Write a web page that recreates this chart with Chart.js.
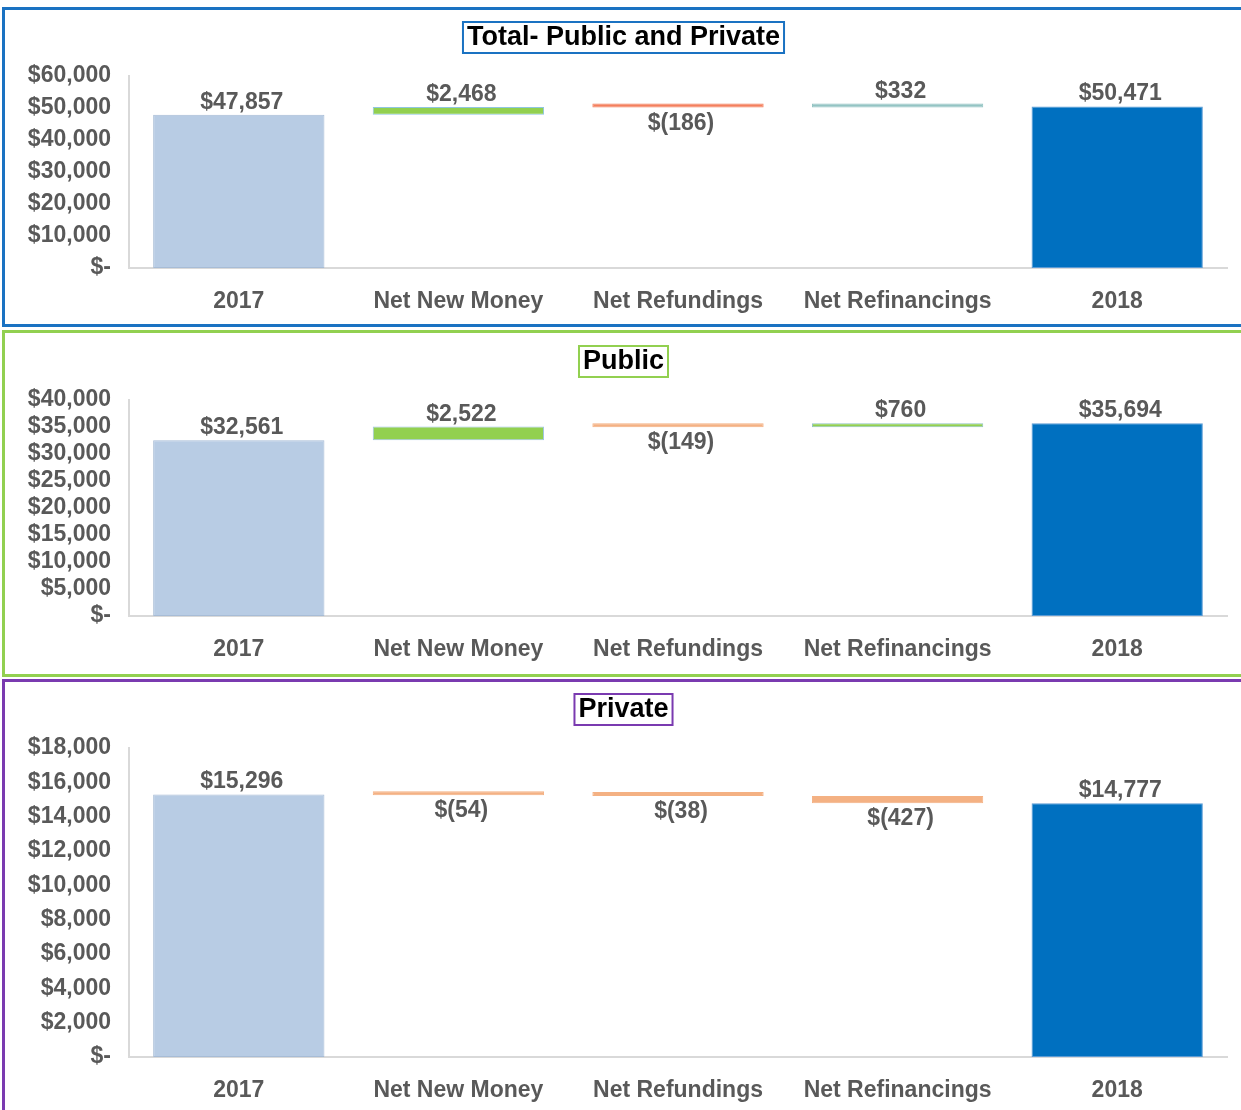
<!DOCTYPE html>
<html>
<head>
<meta charset="utf-8">
<title>Waterfall 2017-2018</title>
<script src="https://cdn.jsdelivr.net/npm/chart.js@4.4.1/dist/chart.umd.min.js"></script>
<style>
  body { margin: 0; width: 1241px; height: 1110px; overflow: hidden; background: #fff; position: relative; }
  .painel { position: absolute; left: 2px; width: 1270px; box-sizing: border-box; border: 3px solid; }
  #painel-total { top: 7px; height: 320px; border-color: #1a72c2; }
  #painel-publico { top: 330px; height: 347px; border-color: #92d050; }
  #painel-privado { top: 679px; height: 460px; border-color: #7a3ab0; }
  canvas { position: absolute; left: 0; }
</style>
</head>
<body>
<div class="painel" id="painel-total"></div>
<div class="painel" id="painel-publico"></div>
<div class="painel" id="painel-privado"></div>
<canvas id="graficoTotal" style="top:10px" width="1241" height="314"></canvas>
<canvas id="graficoPublico" style="top:333px" width="1241" height="341"></canvas>
<canvas id="graficoPrivado" style="top:682px" width="1241" height="428"></canvas>
<script>
// Dados dos gráficos (milhões de dólares)
const categorias = ['2017', 'Net New Money', 'Net Refundings', 'Net Refinancings', '2018'];
const valoresTotal = [47857, 2468, -186, 332, 50471];
const valoresPublico = [32561, 2522, -149, 760, 35694];
const valoresPrivado = [15296, -54, -38, -427, 14777];

// Escalas do eixo Y: máximo e passo
const maxTotal = 60000, passoTotal = 10000;
const maxPublico = 40000, passoPublico = 5000;
const maxPrivado = 18000, passoPrivado = 2000;

const fonte = '"Liberation Sans", Arial, sans-serif';
Chart.defaults.font.family = fonte;
Chart.defaults.color = '#595959';

// Formata valores no estilo contábil: $1,234 / $(186) / $-
function formatar(v) {
    if (v === 0) return '$-';
    const txt = Math.abs(v).toLocaleString('en-US');
    return v < 0 ? '$(' + txt + ')' : '$' + txt;
}

// Monta barras flutuantes para a cascata
function montarCascata(valores) {
    const barras = [];
    let acumulado = 0;
    valores.forEach((v, i) => {
        if (i === 0 || i === valores.length - 1) {
            barras.push([0, v]);
            acumulado = v;
        } else {
            barras.push([acumulado, acumulado + v]);
            acumulado += v;
        }
    });
    return barras;
}

// Rótulos de dados: acima para positivos, abaixo para negativos
const rotulosPlugin = {
    id: 'rotulos',
    afterDatasetsDraw(chart) {
        const ctx = chart.ctx;
        const valores = chart.options.plugins.rotulos.valores;
        const meta = chart.getDatasetMeta(0);
        ctx.save();
        ctx.font = 'bold 23px ' + fonte;
        ctx.fillStyle = '#595959';
        ctx.textAlign = 'center';
        ctx.textBaseline = 'alphabetic';
        meta.data.forEach((bar, i) => {
            const v = valores[i];
            const topo = Math.min(bar.y, bar.base);
            const fundo = Math.max(bar.y, bar.base);
            if (v >= 0) {
                ctx.fillText(formatar(v), bar.x + 3, topo - 6);
            } else {
                ctx.fillText(formatar(v), bar.x + 3, fundo + 22);
            }
        });
        ctx.restore();
    }
};

// Título com moldura colorida
const tituloPlugin = {
    id: 'tituloCaixa',
    afterDraw(chart) {
        const opts = chart.options.plugins.tituloCaixa;
        const ctx = chart.ctx;
        ctx.save();
        ctx.font = 'bold 27px ' + fonte;
        const largura = ctx.measureText(opts.texto).width;
        const cx = chart.width / 2 + 3;
        const cy = chart.chartArea.top - 39;
        ctx.strokeStyle = opts.cor;
        ctx.lineWidth = 2;
        ctx.strokeRect(cx - largura / 2 - 4, cy - 15, largura + 8, 31);
        ctx.fillStyle = '#000';
        ctx.textAlign = 'center';
        ctx.textBaseline = 'middle';
        ctx.fillText(opts.texto, cx, cy + 1);
        ctx.restore();
    }
};

function desenharGrafico(id, valores, cores, bordas, max, passo, titulo, corTitulo, padTopo, padBase) {
    const ctx = document.getElementById(id).getContext('2d');
    return new Chart(ctx, {
        type: 'bar',
        data: {
            labels: categorias,
            datasets: [{
                data: montarCascata(valores),
                backgroundColor: cores,
                borderColor: bordas,
                borderWidth: 1,
                borderSkipped: false,
                barPercentage: 0.78,
                categoryPercentage: 1,
                minBarLength: 4
            }]
        },
        plugins: [rotulosPlugin, tituloPlugin],
        options: {
            responsive: false,
            animation: false,
            layout: { padding: { top: padTopo, bottom: padBase, left: 0, right: 14 } },
            plugins: {
                legend: { display: false },
                tooltip: { enabled: false },
                rotulos: { valores: valores },
                tituloCaixa: { texto: titulo, cor: corTitulo }
            },
            scales: {
                x: {
                    afterFit: s => { s.height = 46; },
                    grid: { display: false, drawTicks: false },
                    border: { display: true, color: '#d9d9d9', width: 2 },
                    ticks: { padding: 20, color: '#595959', font: { size: 23, weight: 'bold' } }
                },
                y: {
                    min: 0,
                    max: max,
                    afterFit: s => { s.width = 129; },
                    grid: { display: false, drawTicks: false },
                    border: { display: true, color: '#d9d9d9', width: 2 },
                    ticks: {
                        stepSize: passo,
                        autoSkip: false,
                        padding: 18,
                        color: '#595959',
                        font: { size: 23, weight: 'bold' },
                        callback: v => formatar(v)
                    }
                }
            }
        }
    });
}

desenharGrafico('graficoTotal', valoresTotal,
    ['#b8cce4', '#92d050', '#f47f5c', '#93c4c3', '#0070c0'],
    ['#a7bcd6', '#8fc6e0', '#f47f5c', '#93c4c3', '#5b9bd5'],
    maxTotal, passoTotal, 'Total- Public and Private', '#1a72c2', 66, 10);

desenharGrafico('graficoPublico', valoresPublico,
    ['#b8cce4', '#92d050', '#f4b183', '#92d050', '#0070c0'],
    ['#a7bcd6', '#9dc3e6', '#f4b183', '#93c4c3', '#5b9bd5'],
    maxPublico, passoPublico, 'Public', '#92d050', 67, 12);

desenharGrafico('graficoPrivado', valoresPrivado,
    ['#b8cce4', '#f4b183', '#f4b183', '#f4b183', '#0070c0'],
    ['#a7bcd6', '#f4b183', '#f4b183', '#f4b183', '#5b9bd5'],
    maxPrivado, passoPrivado, 'Private', '#7a3ab0', 66, 7);
</script>
</body>
</html>
